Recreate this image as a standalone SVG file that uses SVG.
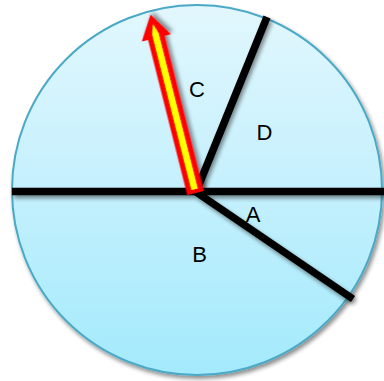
<svg xmlns="http://www.w3.org/2000/svg" width="384" height="381" viewBox="0 0 384 381">
  <defs>
    <linearGradient id="fillGrad" x1="0" y1="0" x2="0" y2="1">
      <stop offset="0" stop-color="#e2f7fd"/>
      <stop offset="0.5" stop-color="#c4f0fd"/>
      <stop offset="1" stop-color="#a3eafc"/>
    </linearGradient>
    <filter id="shadow" x="-20%" y="-20%" width="140%" height="140%">
      <feGaussianBlur in="SourceAlpha" stdDeviation="2"/>
      <feOffset dx="2" dy="3" result="b"/>
      <feComponentTransfer><feFuncA type="linear" slope="0.45"/></feComponentTransfer>
      <feMerge><feMergeNode/><feMergeNode in="SourceGraphic"/></feMerge>
    </filter>
    <style>
      .ray { stroke: #000; stroke-width: 7.5; fill: none; stroke-linecap: butt; }
      .lbl { font-family: "Liberation Sans", Arial, sans-serif; font-size: 22px; fill: #000; text-anchor: middle; }
    </style>
  </defs>

  <g id="circle">
    <circle cx="197" cy="190" r="185" fill="url(#fillGrad)" stroke="#4aa9c6" stroke-width="2" filter="url(#shadow)"/>
  </g>

  <g id="connectors" filter="url(#shadow)">
    <line class="ray" x1="12" y1="191.5" x2="384" y2="191.5"/>
    <line class="ray" x1="196" y1="192" x2="267" y2="17"/>
    <line class="ray" x1="196" y1="192" x2="353" y2="299"/>
  </g>

  <g id="arrow" transform="translate(195.5,193) rotate(-104.15)" filter="url(#shadow)">
    <polygon points="0,-8.5 160,-8.5 160,-15 184,0 160,15 160,8.5 0,8.5" fill="#ff0000"/>
    <polygon points="4,-3.3 164,-3.3 174,0 164,3.3 4,3.3" fill="#ffff00"/>
  </g>

  <g id="label-C"><text class="lbl" x="197" y="97">C</text></g>
  <g id="label-D"><text class="lbl" x="264.5" y="140">D</text></g>
  <g id="label-A"><text class="lbl" x="253" y="221.5">A</text></g>
  <g id="label-B"><text class="lbl" x="199.5" y="261.5">B</text></g>
</svg>
